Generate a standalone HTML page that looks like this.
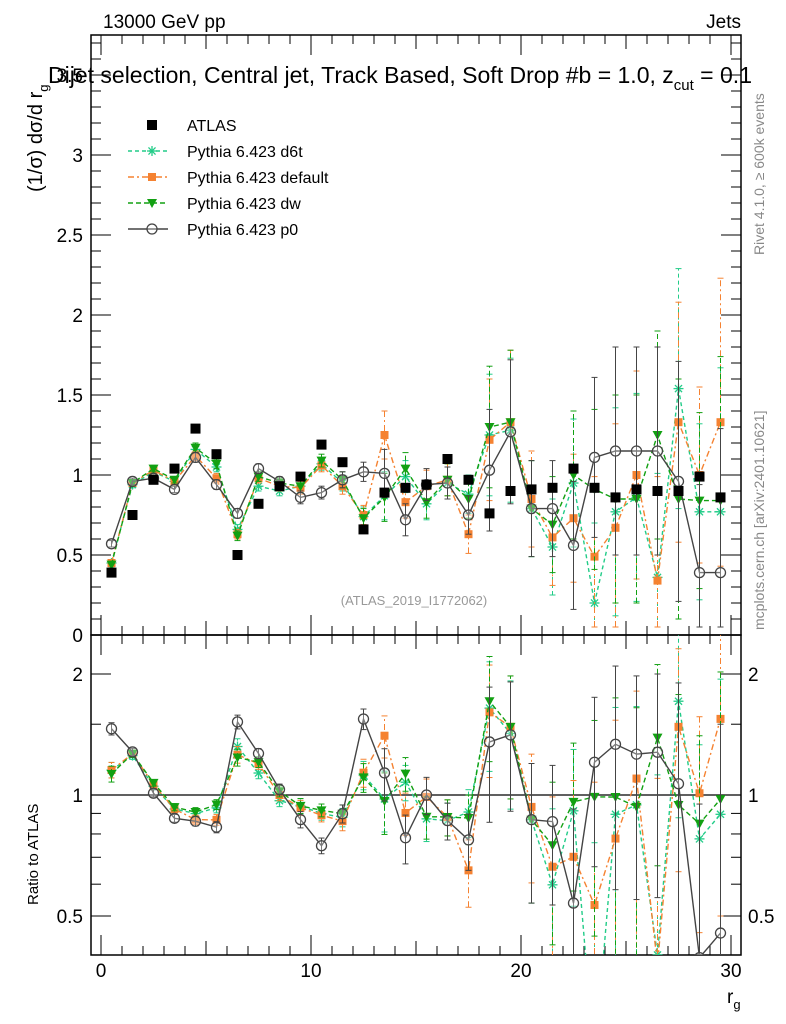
<!DOCTYPE html>
<html><head><meta charset="utf-8"><style>
html,body{margin:0;padding:0;background:#fff;overflow:hidden;width:786px;height:1024px}
svg{display:block}
svg text{font-family:"Liberation Sans",sans-serif}
</style></head><body>
<svg id="c" width="786" height="1024" xmlns="http://www.w3.org/2000/svg">
<rect width="786" height="1024" fill="#fff"/>
<text x="103" y="28" font-size="19">13000 GeV pp</text>
<text x="741" y="28" font-size="19" text-anchor="end">Jets</text>
<text x="48" y="83" font-size="23">Dijet selection, Central jet, Track Based, Soft Drop #b = 1.0, z<tspan font-size="15" dy="7">cut</tspan><tspan dy="-7"> = 0.1</tspan></text>
<text transform="translate(42,192) rotate(-90)" font-size="20">(1/σ) dσ/d r<tspan font-size="13" dy="6">g</tspan></text>
<text transform="translate(38,905) rotate(-90)" font-size="15">Ratio to ATLAS</text>
<text x="727" y="1003" font-size="19">r<tspan font-size="13" dy="6">g</tspan></text>
<text transform="translate(764,255) rotate(-90)" font-size="14" fill="#888">Rivet 4.1.0, ≥ 600k events</text>
<text transform="translate(764,630) rotate(-90)" font-size="14" fill="#888">mcplots.cern.ch [arXiv:2401.10621]</text>
<text x="414" y="605" font-size="13" fill="#999" text-anchor="middle">(ATLAS_2019_I1772062)</text>
<g id="g"></g>
</svg>
<script>
const bins=[0.5,1.5,2.5,3.5,4.5,5.5,6.5,7.5,8.5,9.5,10.5,11.5,12.5,13.5,14.5,15.5,16.5,17.5,18.5,19.5,20.5,21.5,22.5,23.5,24.5,25.5,26.5,27.5,28.5,29.5];
const atlas=[0.39,0.75,0.97,1.04,1.29,1.13,0.50,0.82,0.93,0.99,1.19,1.08,0.66,0.89,0.92,0.94,1.10,0.97,0.76,0.90,0.91,0.92,1.04,0.92,0.86,0.91,0.90,0.90,0.99,0.86];
const p0=[0.57,0.96,0.98,0.91,1.11,0.94,0.76,1.04,0.96,0.86,0.89,0.97,1.02,1.01,0.72,0.94,0.95,0.75,1.03,1.27,0.79,0.79,0.56,1.11,1.15,1.15,1.15,0.96,0.39,0.39];
const def=[0.45,0.95,1.03,0.96,1.12,0.98,0.63,0.98,0.93,0.92,1.06,0.93,0.75,1.25,0.83,0.93,0.97,0.63,1.22,1.33,0.85,0.61,0.73,0.49,0.67,1.00,0.34,1.33,1.00,1.33];
const dw=[0.44,0.95,1.04,0.97,1.17,1.07,0.62,0.99,0.95,0.93,1.09,0.97,0.73,0.86,1.04,0.83,0.97,0.85,1.30,1.33,0.79,0.69,1.00,0.91,0.85,0.85,1.25,0.85,0.84,0.84];
const d6t=[0.45,0.94,1.02,0.96,1.16,1.05,0.66,0.93,0.90,0.93,1.07,0.95,0.74,0.87,0.99,0.82,0.95,0.88,1.25,1.28,0.79,0.55,0.95,0.20,0.77,0.86,0.36,1.54,0.77,0.77];
const mcErr=[0.02,0.02,0.02,0.02,0.03,0.03,0.03,0.03,0.03,0.04,0.04,0.05,0.06,0.15,0.1,0.1,0.1,0.12,0.38,0.45,0.3,0.3,0.4,0.5,0.65,0.65,0.65,0.75,0.55,0.9];
const mainTicks=[0,0.5,1,1.5,2,2.5,3,3.5];
const ratioTicks=[0.5,1,2];
const xTicks=[0,10,20,30];
const L=91,R=741,T=35,MB=635,RB=955;
const X=v=>101+v*21.0;
const Y=v=>635-v*160;
const YR=v=>795-Math.log10(v)*402;
const g=document.getElementById('g');
const NS='http://www.w3.org/2000/svg';
function el(t,a,p){const e=document.createElementNS(NS,t);for(const k in a)e.setAttribute(k,a[k]);(p||g).appendChild(e);return e;}
let f=el('rect',{x:L,y:T,width:R-L,height:MB-T,fill:'none',stroke:'#000','stroke-width':1.5});


f=el('rect',{x:L,y:MB,width:R-L,height:RB-MB,fill:'none',stroke:'#000','stroke-width':1.5});


for(let v=0;v<=3.75;v+=0.1){const y=Y(v);if(y<T)continue;const big=Math.abs(v*2-Math.round(v*2))<1e-6;const len=big?20:10;
el('line',{x1:L,x2:L+len,y1:y,y2:y,stroke:'#000'});el('line',{x1:R,x2:R-len,y1:y,y2:y,stroke:'#000'});}
mainTicks.forEach(v=>{const t=el('text',{x:83,y:Y(v)+7,'font-size':19,'text-anchor':'end'});t.textContent=v;

});
[0.4,0.5,0.6,0.7,0.8,0.9,1,1.5,2].forEach(v=>{const y=YR(v);const big=ratioTicks.includes(v);const len=big?20:10;
el('line',{x1:L,x2:L+len,y1:y,y2:y,stroke:'#000'});el('line',{x1:R,x2:R-len,y1:y,y2:y,stroke:'#000'});});
ratioTicks.forEach(v=>{let t=el('text',{x:83,y:YR(v)+7,'font-size':19,'text-anchor':'end'});t.textContent=v;


t=el('text',{x:748,y:YR(v)+7,'font-size':19});t.textContent=v;

});
el('line',{x1:L,x2:R,y1:YR(1),y2:YR(1),stroke:'#000','stroke-width':1.2});
for(let v=0;v<=30;v++){const x=X(v);const len=v%10==0?20:(v%5==0?14:9);
[MB,RB].forEach(b=>el('line',{x1:x,x2:x,y1:b,y2:b-len,stroke:'#000'}));
el('line',{x1:x,x2:x,y1:MB,y2:MB+len,stroke:'#000'});el('line',{x1:x,x2:x,y1:T,y2:T+len,stroke:'#000'});}
xTicks.forEach(v=>{const t=el('text',{x:X(v),y:977,'font-size':19,'text-anchor':'middle'});t.textContent=v;

});
const clipM=el('clipPath',{id:'cm'});el('rect',{x:L,y:T,width:R-L,height:MB-T},clipM);
const clipR=el('clipPath',{id:'cr'});el('rect',{x:L,y:MB,width:R-L,height:RB-MB},clipR);
function marker(p,type,x,y,col){
 if(type=='sq')el('rect',{x:x-5,y:y-5,width:10,height:10,fill:col},p);
 else if(type=='osq')el('rect',{x:x-4,y:y-4,width:8,height:8,fill:col},p);
 else if(type=='tri')el('path',{d:`M${x-5},${y-4}L${x+5},${y-4}L${x},${y+5}Z`,fill:col},p);
 else if(type=='star'){for(let a=0;a<4;a++){const an=a*Math.PI/4;el('line',{x1:x-5*Math.cos(an),y1:y-5*Math.sin(an),x2:x+5*Math.cos(an),y2:y+5*Math.sin(an),stroke:col,'stroke-width':1.3},p);}}
 else if(type=='circ')el('circle',{cx:x,cy:y,r:5,fill:'#fff','fill-opacity':0.3,stroke:col,'stroke-width':1.3},p);
}
const series=[
 {name:'d6t',vals:d6t,col:'#22cc88',dash:'4,3',m:'star'},
 {name:'default',vals:def,col:'#f58231',dash:'6,3,2,3',m:'osq'},
 {name:'dw',vals:dw,col:'#12a012',dash:'5,3',m:'tri'},
 {name:'p0',vals:p0,col:'#444',dash:'',m:'circ'}];
series.forEach(s=>{
 [[Y,'cm',v=>v,e=>e],[YR,'cr',(v,i)=>v/atlas[i],(e,i)=>e/atlas[i]]].forEach(([fy,cp,tv,te],k)=>{
  const grp=el('g',{'clip-path':`url(#${cp})`});
  
  
  let d='';
  s.vals.forEach((v,i)=>{const val=tv(v,i),e=te(mcErr[i],i);const x=X(bins[i]);
   const y=fy(Math.max(val,0.05));d+=(i?'L':'M')+x+','+y;
   const y1=fy(Math.max(val-e,0.05)),y2=fy(val+e);
   el('line',{x1:x,x2:x,y1:y1,y2:y2,stroke:s.col,'stroke-dasharray':s.dash},grp);
   el('line',{x1:x-3,x2:x+3,y1:y1,y2:y1,stroke:s.col},grp);el('line',{x1:x-3,x2:x+3,y1:y2,y2:y2,stroke:s.col},grp);});
  el('path',{d:d,fill:'none',stroke:s.col,'stroke-width':1.4,'stroke-dasharray':s.dash},grp);
  s.vals.forEach((v,i)=>marker(grp,s.m,X(bins[i]),fy(Math.max(tv(v,i),0.05)),s.col));
 });
});
const ag=el('g',{'clip-path':'url(#cm)'});


atlas.forEach((v,i)=>marker(ag,'sq',X(bins[i]),Y(v),'#000'));
const leg=[['ATLAS','#000','','sq'],['Pythia 6.423 d6t','#22cc88','4,3','star'],['Pythia 6.423 default','#f58231','6,3,2,3','osq'],['Pythia 6.423 dw','#12a012','5,3','tri'],['Pythia 6.423 p0','#444','','circ']];
leg.forEach((l,i)=>{const y=125+i*26;const lg=el('g',{});
 
 
 if(i>0)el('line',{x1:128,x2:168,y1:y,y2:y,stroke:l[1],'stroke-width':1.4,'stroke-dasharray':l[2]},lg);
 marker(lg,l[3],152,y,l[1]);
 const t=el('text',{x:187,y:y+6,'font-size':16},lg);t.textContent=l[0];});
</script>
</body></html>
